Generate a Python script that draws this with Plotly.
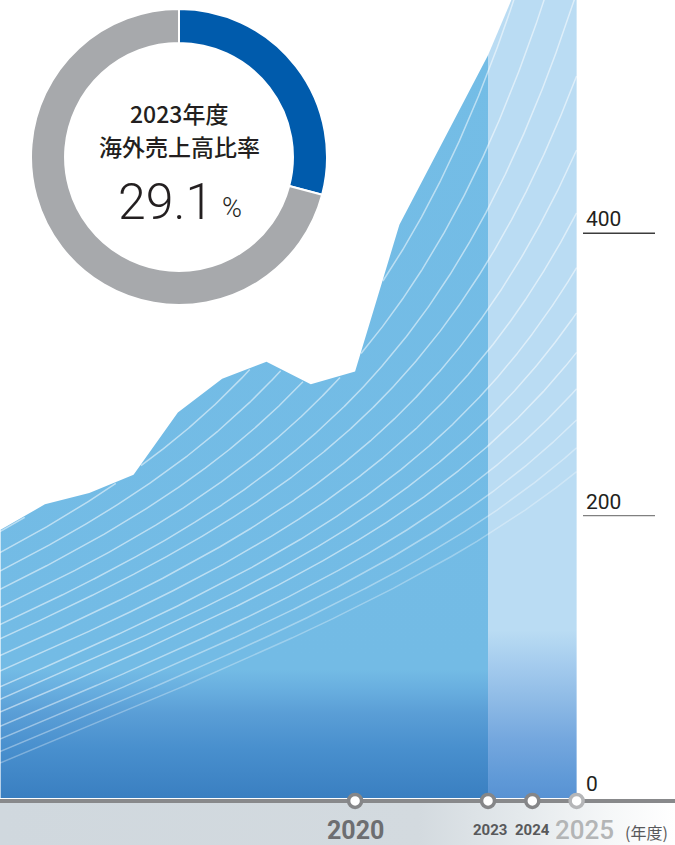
import numpy as np
import plotly.graph_objects as go

# ---------------- data ----------------
years = [2012, 2013, 2014, 2015, 2016, 2017, 2018, 2019, 2020, 2021, 2022, 2023]
sales = [190, 208, 216, 229, 273, 297, 309, 293, 302, 406, 466, 526]
plan_years = [2023, 2024, 2025]
plan_sales = [526, 600, 675]
timeline_years = [2020, 2023, 2024, 2025]
timeline_labels = ["2020", "2023", "2024", "2025"]
y_ticks = [0, 200, 400]
donut_labels = ["海外", "国内"]
donut_values = [29.1, 70.9]
donut_title = ["2023年度", "海外売上高比率"]
donut_value_text = "29.1"
unit_label = "(年度)"

# ---------------- geometry / style ----------------
W, H = 675, 845
X_MIN, X_MAX = 2011.986, 2027.22
Y_MIN, Y_MAX = -33.3, 565.2
BASE_Y = -2.1
BAND_TOP = -3.5


def px_x(p):
    return p / W


def px_y(p):
    return 1 - p / H


fig = go.Figure()

# main area (actual results) with vertical gradient
fig.add_trace(go.Scatter(
    x=years, y=sales, mode="lines", line=dict(width=0), fill="tozeroy",
    fillgradient=dict(type="vertical", start=0, stop=Y_MAX, colorscale=[
        [0.0, "#3A7FC1"], [0.064, "#4990CE"], [0.106, "#5A9ED6"],
        [0.135, "#68AEDF"], [0.161, "#73BBE5"], [1.0, "#74BDE6"]]),
    hoverinfo="skip", showlegend=False))

# plan column
fig.add_trace(go.Scatter(
    x=plan_years, y=plan_sales, mode="lines", line=dict(width=0), fill="tozeroy",
    fillgradient=dict(type="vertical", start=0, stop=Y_MAX, colorscale=[
        [0.0, "#5892D3"], [0.023, "#5F99D7"], [0.073, "#74A7DE"],
        [0.124, "#8FBBE6"], [0.168, "#A5CCEE"], [0.21, "#BADCF3"], [1.0, "#BADCF3"]]),
    hoverinfo="skip", showlegend=False))

# decorative white curves, clipped to the filled region
bound_x = years + plan_years[1:]
bound_y = sales + plan_sales[1:]
CURVE_OFFSETS = [25, 33, 42, 51, 61, 70, 79, 90, 101, 113, 123, 135, 148, 161, 174, 189]
CURVE_SLOPE = 12.55
CURVE_SCALE = 3.454
xs = np.linspace(X_MIN, plan_years[-1], 1400)
top = np.interp(xs, bound_x, bound_y)
for i, off in enumerate(CURVE_OFFSETS):
    bend = 1.02 * 1.208 ** i
    u = xs - 2012
    vals = off + CURVE_SLOPE * u + bend * (np.exp(u / CURVE_SCALE) - 1)
    ys = [float(v) if v <= t - 1.0 else None for v, t in zip(vals, top)]
    alpha = [0.3, 0.36, 0.42, 0.47][i] if i < 4 else 0.52
    fig.add_trace(go.Scatter(
        x=xs, y=ys, mode="lines", connectgaps=False,
        line=dict(color=f"rgba(255,255,255,{alpha})", width=1.5),
        hoverinfo="skip", showlegend=False))

# bottom band with horizontal gradient
fig.add_trace(go.Scatter(
    x=[X_MIN, X_MAX, X_MAX, X_MIN], y=[BAND_TOP, BAND_TOP, Y_MIN, Y_MIN],
    mode="lines", line=dict(width=0), fill="toself",
    fillgradient=dict(type="horizontal", start=X_MIN, stop=X_MAX, colorscale=[
        [0.0, "#D0D8DE"], [0.62, "#D3DADF"], [0.77, "#E4E9EC"],
        [0.9, "#F5F7F8"], [1.0, "#FFFFFF"]]),
    hoverinfo="skip", showlegend=False))

# baseline
fig.add_trace(go.Scatter(
    x=[X_MIN, X_MAX], y=[BASE_Y, BASE_Y], mode="lines",
    line=dict(color="#88898B", width=4), hoverinfo="skip", showlegend=False))

# timeline markers
fig.add_trace(go.Scatter(
    x=timeline_years, y=[BASE_Y] * len(timeline_years), mode="markers",
    marker=dict(size=13, color="white",
                line=dict(width=3.5, color=["#858688", "#858688", "#858688", "#B5B6B8"])),
    hoverinfo="skip", showlegend=False, cliponaxis=False))

# donut
fig.add_trace(go.Pie(
    values=donut_values, labels=donut_labels, hole=0.77, sort=False,
    direction="clockwise", rotation=0,
    marker=dict(colors=["#005BAC", "#A7A9AC"], line=dict(color="white", width=2)),
    textinfo="none", hoverinfo="skip", showlegend=False,
    domain=dict(x=[px_x(31), px_x(327)], y=[px_y(305), px_y(9)])))

annotations = []
# donut center text
for txt, py in zip(donut_title, [113, 146]):
    annotations.append(dict(
        text=txt, x=px_x(179), y=px_y(py), xref="paper", yref="paper",
        xanchor="center", yanchor="middle", showarrow=False,
        font=dict(family="Noto Sans CJK JP", size=23, color="#231F20", weight=500)))
annotations.append(dict(
    text=donut_value_text, x=px_x(215), y=px_y(202), xref="paper", yref="paper",
    xanchor="right", yanchor="middle", showarrow=False,
    font=dict(family="Roboto", size=50, color="#231F20", weight=300)))
annotations.append(dict(
    text="%", x=px_x(220), y=px_y(208), xref="paper", yref="paper",
    xanchor="left", yanchor="middle", showarrow=False,
    font=dict(family="Roboto", size=27, color="#231F20", weight=300)))

# right axis labels and short lines
tick_line_colors = {200: "#808080", 400: "#3C3C3C"}
shapes = []
for v in y_ticks:
    annotations.append(dict(
        text=str(v), x=px_x(584), y=v, xref="paper", yref="y",
        xanchor="left", yanchor="bottom", yshift=0, showarrow=False,
        font=dict(family="Roboto", size=21, color="#231F20")))
    if v in tick_line_colors:
        shapes.append(dict(
            type="line", xref="paper", yref="y", x0=px_x(583), x1=px_x(655),
            y0=v, y1=v, line=dict(color=tick_line_colors[v], width=1.3), layer="above"))

# timeline labels
lab_size = [25, 15, 15, 26]
lab_color = ["#6D6E71", "#58595B", "#58595B", "#B3B5B6"]
lab_weight = [700, 700, 700, 500]
lab_shift = [0, 2, 0, 8]
for yr, txt, s, c, wgt, sh in zip(timeline_years, timeline_labels, lab_size, lab_color, lab_weight, lab_shift):
    annotations.append(dict(
        text=txt, x=yr, y=px_y(830), xref="x", yref="paper",
        xanchor="center", yanchor="middle", xshift=sh, showarrow=False,
        font=dict(family="Roboto", size=s, color=c, weight=wgt)))
annotations.append(dict(
    text=unit_label, x=px_x(646), y=px_y(832), xref="paper", yref="paper",
    xanchor="center", yanchor="middle", showarrow=False,
    font=dict(family="Noto Sans CJK JP", size=16, color="#58595B")))

fig.update_layout(
    width=W, height=H, margin=dict(l=0, r=0, t=0, b=0),
    paper_bgcolor="white", plot_bgcolor="white",
    xaxis=dict(range=[X_MIN, X_MAX], visible=False, fixedrange=True),
    yaxis=dict(range=[Y_MIN, Y_MAX], visible=False, fixedrange=True),
    showlegend=False, annotations=annotations, shapes=shapes)

fig.write_html("out.html", config={"displayModeBar": False},
               post_script="document.body.style.margin='0';")
